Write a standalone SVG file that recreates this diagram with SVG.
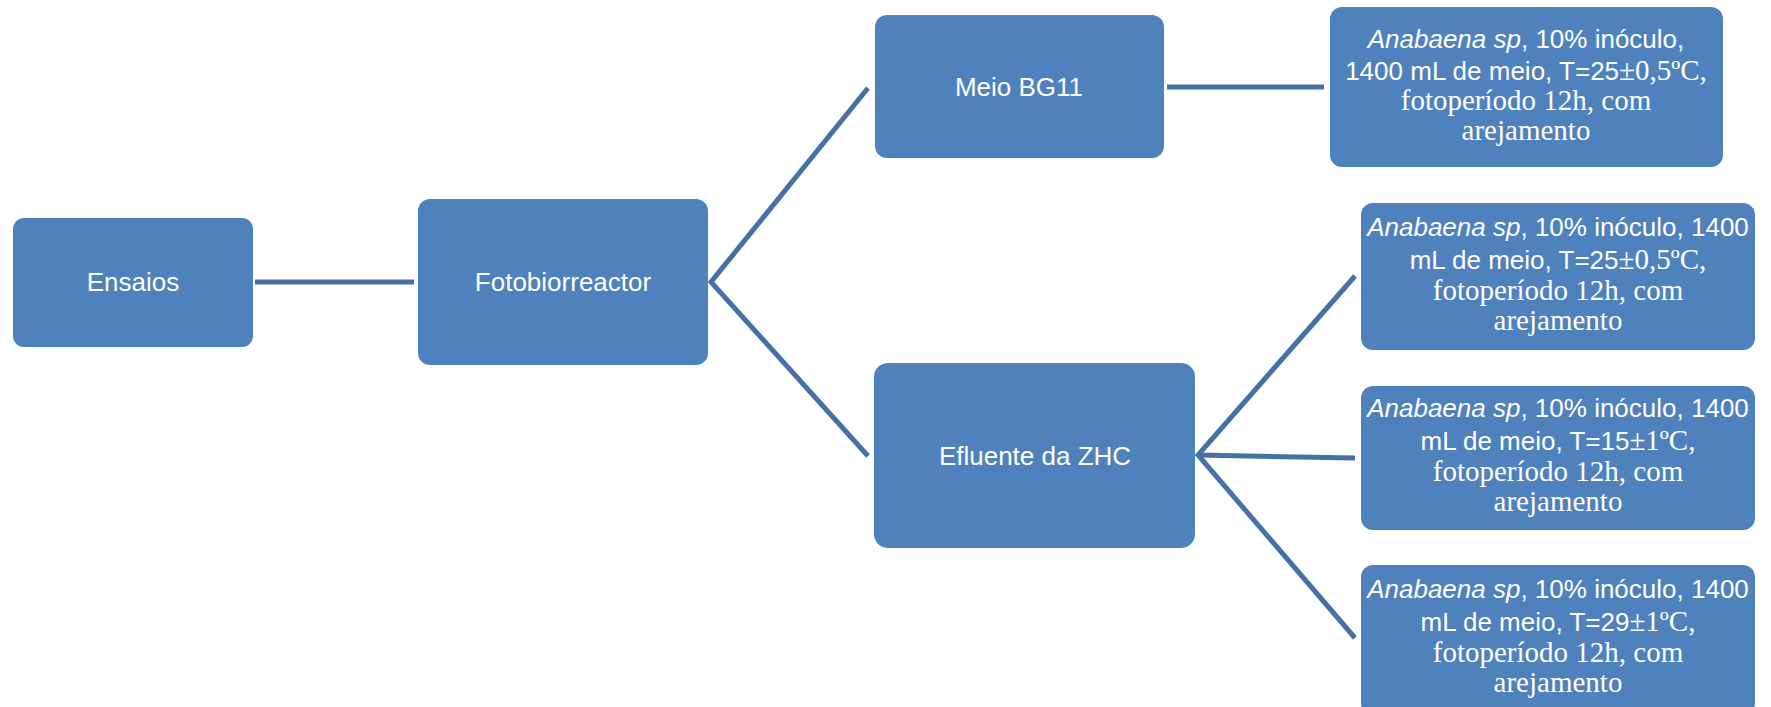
<svg xmlns="http://www.w3.org/2000/svg" width="1771" height="707" viewBox="0 0 1771 707">
<style>
.box{fill:#4f81bd;}
.lbl{font-family:"Liberation Sans",Arial,sans-serif;font-size:26px;fill:#ffffff;text-anchor:middle;}
.s{font-family:"Liberation Sans",Arial,sans-serif;font-size:26px;}
.i{font-style:italic;}
.r{font-family:"Liberation Serif","Times New Roman",serif;font-size:29px;}
.conn{fill:none;stroke:#4571a6;stroke-width:5;stroke-linejoin:miter;stroke-linecap:butt;}
</style>
<rect width="1771" height="707" fill="#ffffff"/>
<g id="connectors">
<path class="conn" d="M255,282 L414,282"/>
<path class="conn" d="M868,88 L711,282 L868,456"/>
<path class="conn" d="M1167,87 L1324,87"/>
<path class="conn" d="M1355,276 L1198,455 L1355,638"/>
<path class="conn" d="M1198,455 L1355,458"/>
</g>
<g id="ensaios">
<rect class="box" x="13" y="218" width="240" height="129" rx="11"/>
<text class="lbl" x="133" y="291">Ensaios</text>
</g>
<g id="fotobiorreactor">
<rect class="box" x="418" y="199" width="290" height="166" rx="12"/>
<text class="lbl" x="563" y="291">Fotobiorreactor</text>
</g>
<g id="meio-bg11">
<rect class="box" x="875" y="15" width="289" height="143" rx="12"/>
<text class="lbl" x="1019" y="96">Meio BG11</text>
</g>
<g id="efluente">
<rect class="box" x="874" y="363" width="321" height="185" rx="14"/>
<text class="lbl" x="1035" y="465">Efluente da ZHC</text>
</g>
<g id="leaf1">
<rect class="box" x="1330" y="7" width="393" height="160" rx="12"/>
<text class="lbl" x="1526" y="48"><tspan class="s i">Anabaena sp</tspan><tspan class="s">, 10% inóculo,</tspan></text>
<text class="lbl" x="1526" y="80"><tspan class="s">1400 mL de meio, T=25</tspan><tspan class="r">±0,5ºC,</tspan></text>
<text class="lbl r" x="1526" y="110">fotoperíodo 12h, com</text>
<text class="lbl r" x="1526" y="140">arejamento</text>
</g>
<g id="leaf2">
<rect class="box" x="1361" y="203" width="394" height="147" rx="12"/>
<text class="lbl" x="1558" y="236"><tspan class="s i">Anabaena sp</tspan><tspan class="s">, 10% inóculo, 1400</tspan></text>
<text class="lbl" x="1558" y="269"><tspan class="s">mL de meio, T=25</tspan><tspan class="r">±0,5ºC,</tspan></text>
<text class="lbl r" x="1558" y="300">fotoperíodo 12h, com</text>
<text class="lbl r" x="1558" y="330">arejamento</text>
</g>
<g id="leaf3">
<rect class="box" x="1361" y="386" width="394" height="144" rx="12"/>
<text class="lbl" x="1558" y="417"><tspan class="s i">Anabaena sp</tspan><tspan class="s">, 10% inóculo, 1400</tspan></text>
<text class="lbl" x="1558" y="450"><tspan class="s">mL de meio, T=15</tspan><tspan class="r">±1ºC,</tspan></text>
<text class="lbl r" x="1558" y="481">fotoperíodo 12h, com</text>
<text class="lbl r" x="1558" y="511">arejamento</text>
</g>
<g id="leaf4">
<rect class="box" x="1361" y="565" width="394" height="150" rx="12"/>
<text class="lbl" x="1558" y="598"><tspan class="s i">Anabaena sp</tspan><tspan class="s">, 10% inóculo, 1400</tspan></text>
<text class="lbl" x="1558" y="631"><tspan class="s">mL de meio, T=29</tspan><tspan class="r">±1ºC,</tspan></text>
<text class="lbl r" x="1558" y="662">fotoperíodo 12h, com</text>
<text class="lbl r" x="1558" y="692">arejamento</text>
</g>
</svg>
